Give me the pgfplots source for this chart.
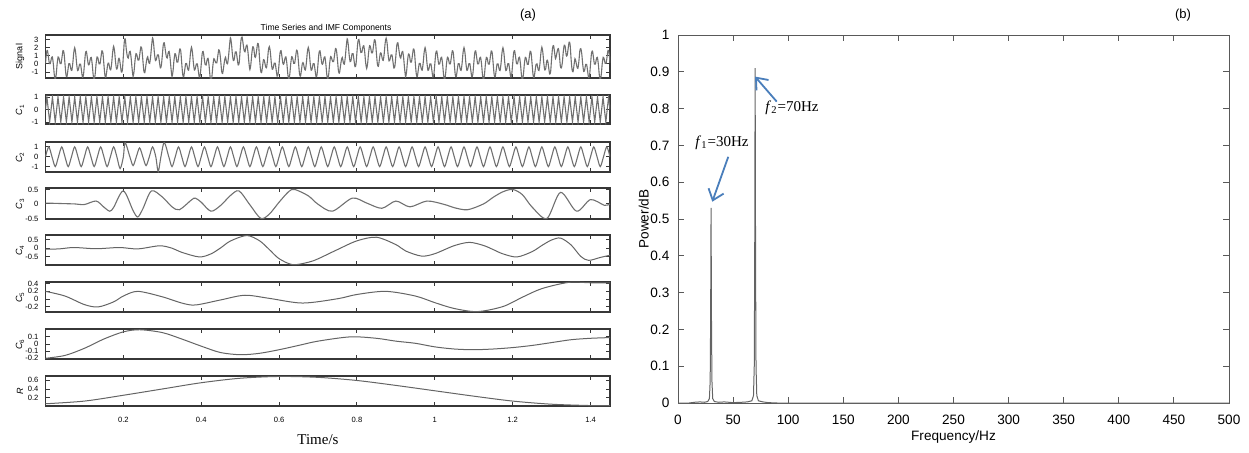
\documentclass[border=0pt]{standalone}
\usepackage{fontspec}
\setmainfont{Liberation Sans}
\newfontfamily\timesf{Liberation Serif}
\usepackage{pgfplots}
\pgfplotsset{compat=1.18}
\usetikzlibrary{arrows.meta}
\definecolor{curve}{RGB}{100,100,100}
\definecolor{curvelt}{RGB}{112,112,112}
\definecolor{frame}{RGB}{55,55,55}
\definecolor{annot}{RGB}{74,126,187}

\pgfplotsset{
  lp/.style={
    scale only axis, anchor=south west,
    width=282.25pt, xmin=0, xmax=1.45,
    tick align=inside, major tick length=2pt,
    xtick={0.2,0.4,0.6,0.8,1,1.2,1.4},
    axis line style={frame, line width=0.6pt},
    every tick/.style={frame, line width=0.45pt},
    tick label style={font=\fontsize{3.8}{4}\selectfont},
    /pgf/number format/assume math mode=true,
    ylabel style={at={(axis description cs:-0.045,0.5)}, anchor=center,
      font=\fontsize{4.5}{5}\selectfont},
  },
  nox/.style={xticklabels={}},
  cv/.style={curve, line width=0.5pt},
  cvl/.style={curvelt, line width=0.55pt},
}

\begin{document}
\begin{tikzpicture}
\path[use as bounding box] (0,0) rectangle (624.5pt,226pt);

% ---------------- (a) time series and IMFs ----------------
\begin{axis}[lp, nox, at={(22.75pt,187pt)}, height=21.5pt,
  ymin=-1.75, ymax=3.6, ytick={-1,0,1,2,3}, ylabel={Signal},
  title={Time Series and IMF Components},
  every axis title shift=0pt,
  title style={at={(axis description cs:0.497,1)}, anchor=south,
    font=\fontsize{4.3}{5}\selectfont, inner sep=1.2pt}]
\addplot[cvl, smooth] coordinates {
(0,0.05)(0.0025,1.40)(0.005,1.67)(0.0075,0.88)(0.01,0.05)(0.0125,0.05)(0.015,0.67)(0.0175,0.88)(0.02,0.05)(0.0225,-1.30)
(0.025,-1.96)(0.0275,-1.31)(0.03,0.04)(0.0325,0.87)(0.035,0.66)(0.0375,0.04)(0.04,0.04)(0.0425,0.87)(0.045,1.66)(0.0475,1.39)
(0.05,0.03)(0.0525,-1.32)(0.055,-1.59)(0.0575,-0.80)(0.06,0.03)(0.0625,0.02)(0.065,-0.60)(0.0675,-0.81)(0.07,0.02)(0.0725,1.37)
(0.075,2.01)(0.0775,1.36)(0.08,0.01)(0.0825,-0.82)(0.085,-0.61)(0.0875,-0.03)(0.09,-0.03)(0.0925,-0.86)(0.095,-1.65)(0.0975,-1.38)
(0.1,-0.07)(0.1025,1.28)(0.105,1.55)(0.1075,0.76)(0.11,-0.07)(0.1125,-0.02)(0.115,0.60)(0.1175,0.81)(0.12,-0.02)(0.1225,-1.37)
(0.125,-1.96)(0.1275,-1.31)(0.13,0.04)(0.1325,0.87)(0.135,0.66)(0.1375,0.01)(0.14,0.01)(0.1425,0.84)(0.145,1.63)(0.1475,1.36)
(0.15,-0.03)(0.1525,-1.38)(0.155,-1.65)(0.1575,-0.86)(0.16,-0.03)(0.1625,0.09)(0.165,-0.53)(0.1675,-0.74)(0.17,0.09)(0.1725,1.44)
(0.175,2.20)(0.1775,1.55)(0.18,0.20)(0.1825,-0.63)(0.185,-0.42)(0.1875,0.60)(0.19,0.60)(0.1925,-0.23)(0.195,-1.02)(0.1975,-0.75)
(0.2,1.00)(0.2025,2.80)(0.205,3.10)(0.2075,1.83)(0.21,1.00)(0.2125,0.73)(0.215,1.35)(0.2175,1.56)(0.22,0.73)(0.2225,-0.62)
(0.225,-1.55)(0.2275,-0.90)(0.23,0.45)(0.2325,1.28)(0.235,1.07)(0.2375,0.49)(0.24,0.49)(0.2425,1.32)(0.245,2.11)(0.2475,1.84)
(0.25,0.53)(0.2525,-0.82)(0.255,-1.09)(0.2575,-0.30)(0.26,0.53)(0.2625,0.89)(0.265,0.27)(0.2675,0.06)(0.27,0.89)(0.2725,2.24)
(0.275,3.24)(0.2775,2.59)(0.28,1.24)(0.2825,0.41)(0.285,0.62)(0.2875,1.13)(0.29,1.13)(0.2925,0.30)(0.295,-0.49)(0.2975,-0.22)
(0.3,1.01)(0.3025,2.36)(0.305,2.63)(0.3075,1.84)(0.31,1.01)(0.3125,0.73)(0.315,1.35)(0.3175,1.56)(0.32,0.73)(0.3225,-0.62)
(0.325,-1.56)(0.3275,-0.91)(0.33,0.44)(0.3325,1.27)(0.335,1.06)(0.3375,0.24)(0.34,0.24)(0.3425,1.07)(0.345,1.86)(0.3475,1.59)
(0.35,0.03)(0.3525,-1.32)(0.355,-1.59)(0.3575,-0.80)(0.36,0.03)(0.3625,0.05)(0.365,-0.57)(0.3675,-0.78)(0.37,0.05)(0.3725,1.40)
(0.375,2.07)(0.3775,1.42)(0.38,0.07)(0.3825,-0.76)(0.385,-0.55)(0.3875,0)(0.39,0)(0.3925,-0.83)(0.395,-1.62)(0.3975,-1.35)
(0.4,-0.07)(0.4025,1.28)(0.405,1.55)(0.4075,0.76)(0.41,-0.07)(0.4125,-0.13)(0.415,0.49)(0.4175,0.70)(0.42,-0.13)(0.4225,-1.48)
(0.425,-2.18)(0.4275,-1.53)(0.43,-0.18)(0.4325,0.65)(0.435,0.44)(0.4375,0.13)(0.44,0.13)(0.4425,0.96)(0.445,1.75)(0.4475,1.48)
(0.45,0.43)(0.4525,-0.92)(0.455,-1.19)(0.4575,-0.40)(0.46,0.43)(0.4625,0.84)(0.465,0.22)(0.4675,0.01)(0.47,0.84)(0.4725,2.19)
(0.475,3.25)(0.4775,2.60)(0.48,1.25)(0.4825,0.42)(0.485,0.63)(0.4875,1.49)(0.49,1.49)(0.4925,0.66)(0.495,-0.13)(0.4975,0.14)
(0.5,1.72)(0.5025,3.07)(0.505,3.34)(0.5075,2.55)(0.51,1.72)(0.5125,1.51)(0.515,2.13)(0.5175,2.34)(0.52,1.51)(0.5225,0.16)
(0.525,-0.70)(0.5275,-0.05)(0.53,1.30)(0.5325,2.13)(0.535,1.92)(0.5375,0.92)(0.54,0.92)(0.5425,1.75)(0.545,2.54)(0.5475,2.27)
(0.55,0.54)(0.5525,-0.81)(0.555,-1.08)(0.5575,-0.29)(0.56,0.54)(0.5625,0.35)(0.565,-0.27)(0.5675,-0.48)(0.57,0.35)(0.5725,1.70)
(0.575,2.16)(0.5775,1.51)(0.58,0.16)(0.5825,-0.67)(0.585,-0.46)(0.5875,0.10)(0.59,0.10)(0.5925,-0.73)(0.595,-1.52)(0.5975,-1.25)
(0.6,0.03)(0.6025,1.38)(0.605,1.65)(0.6075,0.86)(0.61,0.03)(0.6125,0.05)(0.615,0.67)(0.6175,0.88)(0.62,0.05)(0.6225,-1.30)
(0.625,-1.93)(0.6275,-1.28)(0.63,0.07)(0.6325,0.90)(0.635,0.69)(0.6375,0.09)(0.64,0.09)(0.6425,0.92)(0.645,1.71)(0.6475,1.44)
(0.65,0.10)(0.6525,-1.25)(0.655,-1.52)(0.6575,-0.73)(0.66,0.10)(0.6625,0.08)(0.665,-0.54)(0.6675,-0.75)(0.67,0.08)(0.6725,1.43)
(0.675,2.05)(0.6775,1.40)(0.68,0.05)(0.6825,-0.78)(0.685,-0.57)(0.6875,0.03)(0.69,0.03)(0.6925,-0.80)(0.695,-1.59)(0.6975,-1.32)
(0.7,0.01)(0.7025,1.36)(0.705,1.63)(0.7075,0.84)(0.71,0.01)(0.7125,0.05)(0.715,0.67)(0.7175,0.88)(0.72,0.05)(0.7225,-1.30)
(0.725,-1.91)(0.7275,-1.26)(0.73,0.09)(0.7325,0.92)(0.735,0.71)(0.7375,0.29)(0.74,0.29)(0.7425,1.12)(0.745,1.91)(0.7475,1.64)
(0.75,0.48)(0.7525,-0.87)(0.755,-1.14)(0.7575,-0.35)(0.76,0.48)(0.7625,0.80)(0.765,0.18)(0.7675,-0.03)(0.77,0.80)(0.7725,2.15)
(0.775,3.12)(0.7775,2.47)(0.78,1.12)(0.7825,0.29)(0.785,0.50)(0.7875,1.28)(0.79,1.28)(0.7925,0.45)(0.795,-0.34)(0.7975,-0.07)
(0.8,1.43)(0.8025,2.78)(0.805,3.05)(0.8075,2.26)(0.81,1.43)(0.8125,1.44)(0.815,2.06)(0.8175,2.27)(0.82,1.44)(0.8225,0.09)
(0.825,-0.56)(0.8275,0.09)(0.83,1.44)(0.8325,2.27)(0.835,2.06)(0.8375,1.39)(0.84,1.39)(0.8425,2.22)(0.845,3.01)(0.8475,2.74)
(0.85,1.33)(0.8525,-0.02)(0.855,-0.29)(0.8575,0.50)(0.86,1.33)(0.8625,1.27)(0.865,0.65)(0.8675,0.44)(0.87,1.27)(0.8725,2.62)
(0.875,3.20)(0.8775,2.55)(0.88,1.20)(0.8825,0.37)(0.885,0.58)(0.8875,1.11)(0.89,1.11)(0.8925,0.28)(0.895,-0.51)(0.8975,-0.24)
(0.9,1.02)(0.9025,2.37)(0.905,2.64)(0.9075,1.85)(0.91,1.02)(0.9125,0.72)(0.915,1.34)(0.9175,1.55)(0.92,0.72)(0.9225,-0.63)
(0.925,-1.59)(0.9275,-0.94)(0.93,0.41)(0.9325,1.24)(0.935,1.03)(0.9375,0.24)(0.94,0.24)(0.9425,1.07)(0.945,1.86)(0.9475,1.59)
(0.95,0.06)(0.9525,-1.29)(0.955,-1.56)(0.9575,-0.77)(0.96,0.06)(0.9625,0.05)(0.965,-0.57)(0.9675,-0.78)(0.97,0.05)(0.9725,1.40)
(0.975,2.03)(0.9775,1.38)(0.98,0.03)(0.9825,-0.80)(0.985,-0.59)(0.9875,0.01)(0.99,0.01)(0.9925,-0.82)(0.995,-1.61)(0.9975,-1.34)
(1,-0.01)(1.0025,1.34)(1.005,1.61)(1.0075,0.82)(1.01,-0.01)(1.0125,0)(1.015,0.62)(1.0175,0.83)(1.02,0)(1.0225,-1.35)
(1.025,-1.99)(1.0275,-1.34)(1.03,0.01)(1.0325,0.84)(1.035,0.63)(1.0375,0.02)(1.04,0.02)(1.0425,0.85)(1.045,1.64)(1.0475,1.37)
(1.05,0.02)(1.0525,-1.33)(1.055,-1.60)(1.0575,-0.81)(1.06,0.02)(1.0625,0.03)(1.065,-0.59)(1.0675,-0.80)(1.07,0.03)(1.0725,1.38)
(1.075,2.03)(1.0775,1.38)(1.08,0.03)(1.0825,-0.80)(1.085,-0.59)(1.0875,0.02)(1.09,0.02)(1.0925,-0.81)(1.095,-1.60)(1.0975,-1.33)
(1.1,0)(1.1025,1.35)(1.105,1.62)(1.1075,0.83)(1.11,0)(1.1125,0)(1.115,0.62)(1.1175,0.83)(1.12,0)(1.1225,-1.35)
(1.125,-2.01)(1.1275,-1.36)(1.13,-0.01)(1.1325,0.82)(1.135,0.61)(1.1375,-0.01)(1.14,-0.01)(1.1425,0.82)(1.145,1.61)(1.1475,1.34)
(1.15,0)(1.1525,-1.35)(1.155,-1.62)(1.1575,-0.83)(1.16,0)(1.1625,0.01)(1.165,-0.61)(1.1675,-0.82)(1.17,0.01)(1.1725,1.36)
(1.175,2.01)(1.1775,1.36)(1.18,0.01)(1.1825,-0.82)(1.185,-0.61)(1.1875,0.02)(1.19,0.02)(1.1925,-0.81)(1.195,-1.60)(1.1975,-1.33)
(1.2,0.03)(1.2025,1.38)(1.205,1.65)(1.2075,0.86)(1.21,0.03)(1.2125,0.01)(1.215,0.63)(1.2175,0.84)(1.22,0.01)(1.2225,-1.34)
(1.225,-2.01)(1.2275,-1.36)(1.23,-0.01)(1.2325,0.82)(1.235,0.61)(1.2375,-0.04)(1.24,-0.04)(1.2425,0.79)(1.245,1.58)(1.2475,1.31)
(1.25,-0.06)(1.2525,-1.41)(1.255,-1.68)(1.2575,-0.89)(1.26,-0.06)(1.2625,0.01)(1.265,-0.61)(1.2675,-0.82)(1.27,0.01)(1.2725,1.36)
(1.275,2.08)(1.2775,1.43)(1.28,0.08)(1.2825,-0.75)(1.285,-0.54)(1.2875,0.37)(1.29,0.37)(1.2925,-0.46)(1.295,-1.25)(1.2975,-0.98)
(1.3,0.66)(1.3025,2.01)(1.305,2.28)(1.3075,1.49)(1.31,0.66)(1.3125,1.08)(1.315,1.70)(1.3175,1.91)(1.32,1.08)(1.3225,-0.27)
(1.325,-0.50)(1.3275,0.15)(1.33,1.50)(1.3325,2.33)(1.335,2.12)(1.3375,1.08)(1.34,1.08)(1.3425,1.91)(1.345,2.70)(1.3475,2.43)
(1.35,0.65)(1.3525,-0.70)(1.355,-0.97)(1.3575,-0.18)(1.36,0.65)(1.3625,0.28)(1.365,-0.34)(1.3675,-0.55)(1.37,0.28)(1.3725,1.63)
(1.375,1.90)(1.3775,1.25)(1.38,-0.10)(1.3825,-0.93)(1.385,-0.72)(1.3875,-0.06)(1.39,-0.06)(1.3925,-0.89)(1.395,-1.68)(1.3975,-1.41)
(1.4,-0.02)(1.4025,1.33)(1.405,1.60)(1.4075,0.81)(1.41,-0.02)(1.4125,-0.01)(1.415,0.61)(1.4175,0.82)(1.42,-0.01)(1.4225,-1.36)
(1.425,-2.00)(1.4275,-1.35)(1.43,0)(1.4325,0.83)(1.435,0.62)(1.4375,0.07)(1.44,0.07)(1.4425,0.90)(1.445,1.69)(1.4475,1.42)
(1.45,0.14)
};
\end{axis}

\begin{axis}[lp, nox, at={(22.75pt,164pt)}, height=14.5pt,
  ymin=-1.16, ymax=1.16, ytick={-1,0,1}, ylabel={{\itshape C}\textsubscript{1}}]
\addplot[cvl] coordinates {
(0,0)
(0.0036,1)(0.0107,-1)(0.0179,1)(0.025,-1)(0.0321,1)(0.0393,-1)(0.0464,1)(0.0536,-1)(0.0607,1)(0.0679,-1)(0.075,1)(0.0821,-1)(0.0893,1)(0.0964,-1)
(0.1036,1)(0.1107,-1)(0.1179,1)(0.125,-1)(0.1321,1)(0.1393,-1)(0.1464,1)(0.1536,-1)(0.1607,1)(0.1679,-1)(0.175,1)(0.1821,-1)(0.1893,1)(0.1964,-1)
(0.2036,1)(0.2107,-1)(0.2179,1)(0.225,-1)(0.2321,1)(0.2393,-1)(0.2464,1)(0.2536,-1)(0.2607,1)(0.2679,-1)(0.275,1)(0.2821,-1)(0.2893,1)(0.2964,-1)
(0.3036,1)(0.3107,-1)(0.3179,1)(0.325,-1)(0.3321,1)(0.3393,-1)(0.3464,1)(0.3536,-1)(0.3607,1)(0.3679,-1)(0.375,1)(0.3821,-1)(0.3893,1)(0.3964,-1)
(0.4036,1)(0.4107,-1)(0.4179,1)(0.425,-1)(0.4321,1)(0.4393,-1)(0.4464,1)(0.4536,-1)(0.4607,1)(0.4679,-1)(0.475,1)(0.4821,-1)(0.4893,1)(0.4964,-1)
(0.5036,1)(0.5107,-1)(0.5179,1)(0.525,-1)(0.5321,1)(0.5393,-1)(0.5464,1)(0.5536,-1)(0.5607,1)(0.5679,-1)(0.575,1)(0.5821,-1)(0.5893,1)(0.5964,-1)
(0.6036,1)(0.6107,-1)(0.6179,1)(0.625,-1)(0.6321,1)(0.6393,-1)(0.6464,1)(0.6536,-1)(0.6607,1)(0.6679,-1)(0.675,1)(0.6821,-1)(0.6893,1)(0.6964,-1)
(0.7036,1)(0.7107,-1)(0.7179,1)(0.725,-1)(0.7321,1)(0.7393,-1)(0.7464,1)(0.7536,-1)(0.7607,1)(0.7679,-1)(0.775,1)(0.7821,-1)(0.7893,1)(0.7964,-1)
(0.8036,1)(0.8107,-1)(0.8179,1)(0.825,-1)(0.8321,1)(0.8393,-1)(0.8464,1)(0.8536,-1)(0.8607,1)(0.8679,-1)(0.875,1)(0.8821,-1)(0.8893,1)(0.8964,-1)
(0.9036,1)(0.9107,-1)(0.9179,1)(0.925,-1)(0.9321,1)(0.9393,-1)(0.9464,1)(0.9536,-1)(0.9607,1)(0.9679,-1)(0.975,1)(0.9821,-1)(0.9893,1)(0.9964,-1)
(1.0036,1)(1.0107,-1)(1.0179,1)(1.025,-1)(1.0321,1)(1.0393,-1)(1.0464,1)(1.0536,-1)(1.0607,1)(1.0679,-1)(1.075,1)(1.0821,-1)(1.0893,1)(1.0964,-1)
(1.1036,1)(1.1107,-1)(1.1179,1)(1.125,-1)(1.1321,1)(1.1393,-1)(1.1464,1)(1.1536,-1)(1.1607,1)(1.1679,-1)(1.175,1)(1.1821,-1)(1.1893,1)(1.1964,-1)
(1.2036,1)(1.2107,-1)(1.2179,1)(1.225,-1)(1.2321,1)(1.2393,-1)(1.2464,1)(1.2536,-1)(1.2607,1)(1.2679,-1)(1.275,1)(1.2821,-1)(1.2893,1)(1.2964,-1)
(1.3036,1)(1.3107,-1)(1.3179,1)(1.325,-1)(1.3321,1)(1.3393,-1)(1.3464,1)(1.3536,-1)(1.3607,1)(1.3679,-1)(1.375,1)(1.3821,-1)(1.3893,1)(1.3964,-1)
(1.4036,1)(1.4107,-1)(1.4179,1)(1.425,-1)(1.4321,1)(1.4393,-1)(1.4464,1)(1.45,0)
};
\end{axis}

\begin{axis}[lp, nox, at={(22.75pt,140pt)}, height=15pt,
  ymin=-1.55, ymax=1.5, ytick={-1,0,1}, ylabel={{\itshape C}\textsubscript{2}}]
\addplot[cvl, smooth] coordinates {
(0,0)(0.0083,1)(0.0167,0)(0.025,-1)(0.0333,0)(0.0417,1)(0.05,0)(0.0583,-1)(0.0667,0)(0.075,1)(0.0833,0)(0.0917,-1)
(0.1,0)(0.1083,1)(0.1167,0)(0.125,-1)(0.1333,0)(0.1417,1)(0.15,0)(0.1583,-1)(0.1667,0)(0.175,1)(0.1833,0)(0.1917,-1.2)
(0.2,0)(0.2045,1.45)(0.2167,0)(0.225,-0.9)(0.2333,0)(0.2417,0.9)(0.25,0)(0.2583,-0.9)(0.2667,0)(0.275,1.0)(0.2833,0)(0.2895,-1.5)
(0.2965,0)(0.305,1.45)(0.3167,0)(0.325,-1.0)(0.3333,0)(0.3417,1)(0.35,0)(0.3583,-1)(0.3667,0)(0.375,1)(0.3833,0)(0.3917,-1)
(0.4,0)(0.4083,1)(0.4167,0)(0.425,-1)(0.4333,0)(0.4417,1)(0.45,0)(0.4583,-1)(0.4667,0)(0.475,1)(0.4833,0)(0.4917,-1)
(0.5,0)(0.5083,1)(0.5167,0)(0.525,-1)(0.5333,0)(0.5417,1)(0.55,0)(0.5583,-1)(0.5667,0)(0.575,1)(0.5833,0)(0.5917,-1)
(0.6,0)(0.6083,1)(0.6167,0)(0.625,-1)(0.6333,0)(0.6417,1)(0.65,0)(0.6583,-1)(0.6667,0)(0.675,1)(0.6833,0)(0.6917,-1)
(0.7,0)(0.7083,1)(0.7167,0)(0.725,-1)(0.7333,0)(0.7417,1)(0.75,0)(0.7583,-1)(0.7667,0)(0.775,1)(0.7833,0)(0.7917,-1)
(0.8,0)(0.8083,1)(0.8167,0)(0.825,-1)(0.8333,0)(0.8417,1)(0.85,0)(0.8583,-1)(0.8667,0)(0.875,1)(0.8833,0)(0.8917,-1)
(0.9,0)(0.9083,1)(0.9167,0)(0.925,-1)(0.9333,0)(0.9417,1)(0.95,0)(0.9583,-1)(0.9667,0)(0.975,1)(0.9833,0)(0.9917,-1)
(1,0)(1.0083,1)(1.0167,0)(1.025,-1)(1.0333,0)(1.0417,1)(1.05,0)(1.0583,-1)(1.0667,0)(1.075,1)(1.0833,0)(1.0917,-1)
(1.1,0)(1.1083,1)(1.1167,0)(1.125,-1)(1.1333,0)(1.1417,1)(1.15,0)(1.1583,-1)(1.1667,0)(1.175,1)(1.1833,0)(1.1917,-1)
(1.2,0)(1.2083,1)(1.2167,0)(1.225,-1)(1.2333,0)(1.2417,1)(1.25,0)(1.2583,-1)(1.2667,0)(1.275,1)(1.2833,0)(1.2917,-1)
(1.3,0)(1.3083,1)(1.3167,0)(1.325,-1)(1.3333,0)(1.3417,1)(1.35,0)(1.3583,-1)(1.3667,0)(1.375,1)(1.3833,0)(1.3917,-1)
(1.4,0)(1.4083,1)(1.4167,0)(1.425,-1)(1.4333,0)(1.4417,1)(1.45,0)
};
\end{axis}

\begin{axis}[lp, nox, at={(22.75pt,116.5pt)}, height=15.5pt,
  ymin=-0.52, ymax=0.55, ytick={-0.5,0,0.5}, ylabel={{\itshape C}\textsubscript{3}}]
\addplot[cvl, smooth] coordinates {
(0,0.03)(0.025,0.02)(0.05,0.01)(0.075,0)(0.1,-0.02)(0.13,0.1)(0.15,-0.11)(0.165,-0.25)(0.175,-0.12)
(0.2,0.45)(0.225,-0.23)(0.237,-0.45)(0.25,-0.17)(0.272,0.45)(0.3,0.24)(0.325,-0.1)(0.344,-0.2)
(0.375,0.14)(0.385,0.2)(0.4,0.06)(0.425,-0.25)(0.45,-0.05)(0.475,0.29)(0.497,0.45)(0.525,-0.03)
(0.553,-0.5)(0.575,-0.35)(0.6,0.06)(0.625,0.43)(0.64,0.5)(0.675,0.28)(0.7,-0.01)(0.737,-0.25)
(0.788,0.2)(0.825,0.03)(0.864,-0.15)(0.9,0.1)(0.936,-0.1)(0.98,0.1)(1.025,-0.02)(1.05,-0.13)
(1.084,-0.2)(1.125,0)(1.15,0.23)(1.175,0.42)(1.2,0.5)(1.225,0.32)(1.25,-0.11)(1.288,-0.5)
(1.323,0.4)(1.364,-0.25)(1.4,0.15)(1.436,-0.05)(1.45,0)
};
\end{axis}

\begin{axis}[lp, nox, at={(22.75pt,93.5pt)}, height=15pt,
  ymin=-0.97, ymax=0.78, ytick={-1,-0.5,0,0.5}, ylabel={{\itshape C}\textsubscript{4}}]
\addplot[cv, smooth] coordinates {
(0,-0.05)(0.035,-0.03)(0.073,0.05)(0.13,-0.02)(0.19,0.05)(0.237,-0.03)(0.293,0.15)(0.325,0.01)
(0.35,-0.23)(0.395,-0.5)(0.425,-0.32)(0.45,0.03)(0.475,0.43)(0.517,0.75)(0.55,0.44)(0.575,-0.07)
(0.6,-0.6)(0.635,-0.95)(0.675,-0.81)(0.7,-0.61)(0.75,-0.07)(0.8,0.44)(0.85,0.65)(0.9,0.22)
(0.925,-0.15)(0.966,-0.45)(1,-0.31)(1.05,0.16)(1.089,0.35)(1.125,0.17)(1.15,-0.07)(1.175,-0.32)
(1.211,-0.5)(1.25,-0.19)(1.275,0.17)(1.3,0.49)(1.323,0.6)(1.35,0.2)(1.375,-0.47)(1.395,-0.7)
(1.425,-0.53)(1.45,-0.4)
};
\end{axis}

\begin{axis}[lp, nox, at={(22.75pt,70pt)}, height=15pt,
  ymin=-0.33, ymax=0.44, ytick={-0.2,0,0.2,0.4}, ylabel={{\itshape C}\textsubscript{5}}]
\addplot[cv, smooth] coordinates {
(0,0.2)(0.05,0.08)(0.1,-0.14)(0.135,-0.2)(0.175,-0.07)(0.2,0.08)(0.237,0.2)(0.3,0.06)
(0.35,-0.1)(0.385,-0.15)(0.45,-0.02)(0.512,0.1)(0.575,0.02)(0.66,-0.1)(0.75,0.01)(0.8,0.12)
(0.874,0.2)(0.95,0.08)(1,-0.09)(1.05,-0.24)(1.109,-0.32)(1.175,-0.19)(1.225,0.05)(1.275,0.27)
(1.344,0.43)(1.4,0.42)(1.45,0.42)
};
\end{axis}

\begin{axis}[lp, nox, at={(22.75pt,46.5pt)}, height=15pt,
  ymin=-0.21, ymax=0.21, ytick={-0.2,-0.1,0,0.1}, ylabel={{\itshape C}\textsubscript{6}}]
\addplot[cv, smooth] coordinates {
(0,-0.2)(0.05,-0.16)(0.1,-0.06)(0.15,0.07)(0.2,0.17)(0.242,0.2)(0.3,0.16)(0.35,0.07)
(0.4,-0.03)(0.45,-0.12)(0.502,-0.15)(0.55,-0.13)(0.6,-0.08)(0.65,-0.02)(0.7,0.04)(0.783,0.1)
(0.85,0.08)(0.9,0.04)(0.95,0.01)(1,-0.04)(1.05,-0.07)(1.099,-0.08)(1.15,-0.07)(1.2,-0.05)
(1.25,-0.02)(1.3,0.02)(1.35,0.06)(1.4,0.08)(1.45,0.09)
};
\end{axis}

\begin{axis}[lp, at={(22.75pt,23pt)}, height=15pt,
  ymin=0.02, ymax=0.69, ytick={0.2,0.4,0.6}, ylabel={{\itshape R}},
  xticklabel style={yshift=-2.2pt}]
\addplot[cv, smooth] coordinates {
(0,0.07)(0.1,0.13)(0.2,0.26)(0.3,0.4)(0.4,0.54)(0.5,0.64)(0.6,0.68)(0.7,0.66)
(0.8,0.59)(0.9,0.48)(1,0.36)(1.1,0.24)(1.2,0.13)(1.3,0.06)(1.4,0.03)(1.45,0.03)
};
\end{axis}

\node[font=\timesf\fontsize{7.5}{9}\selectfont] at (159pt,6pt) {Time/s};
\node[font=\fontsize{6.5}{8}\selectfont] at (264pt,218.5pt) {(a)};
\node[font=\fontsize{6.5}{8}\selectfont] at (591.5pt,218.5pt) {(b)};

% ---------------- (b) spectrum ----------------
\begin{axis}[scale only axis, anchor=south west, at={(339pt,24.5pt)},
  width=275.5pt, height=184pt,
  xmin=0, xmax=500, ymin=0, ymax=1,
  xtick={0,50,100,150,200,250,300,350,400,450,500},
  ytick={0,0.1,0.2,0.3,0.4,0.5,0.6,0.7,0.8,0.9,1},
  tick align=inside, major tick length=3pt,
  axis line style={black!65, line width=0.45pt},
  every tick/.style={black!65, line width=0.45pt},
  tick label style={font=\fontsize{6.8}{8}\selectfont},
  /pgf/number format/assume math mode=true,
  yticklabel style={xshift=-0.8pt},
  xticklabel style={yshift=-2.5pt},
  label style={font=\fontsize{6.8}{8}\selectfont},
  xlabel={Frequency/Hz}, ylabel={Power/dB},
  xlabel style={at={(axis description cs:0.5,-0.092)}, anchor=center},
  ylabel style={at={(axis description cs:-0.062,0.5)}, anchor=center}]
\addplot[curve, line width=0.5pt] coordinates {
(0,0)(10,0)(15,0.002)(20,0.003)(24,0.002)(27,0.004)(28.5,0.012)(29.2,0.06)(29.6,0.22)(30,0.53)
(30.4,0.22)(30.8,0.06)(31.5,0.012)(33,0.004)(37,0.002)(42,0.003)(50,0.001)(58,0.002)(63,0.003)
(67,0.006)(68.5,0.02)(69.2,0.1)(69.6,0.38)(70,0.91)(70.4,0.38)(70.8,0.1)(71.5,0.02)(73,0.006)
(77,0.003)(82,0.001)(90,0)(500,0)
};
\draw[annot, line width=0.9pt, -{Straight Barb[length=5pt,width=8pt]}]
  (axis cs:45.6,0.669) -- (axis cs:31.1,0.547);
\draw[annot, line width=0.9pt, -{Straight Barb[length=5pt,width=8pt]}]
  (axis cs:89.6,0.819) -- (axis cs:69.9,0.887);
\node[font=\timesf\fontsize{7.5}{9}\selectfont] at (axis cs:39.9,0.707)
  {\textit{f}\textsubscript{1}=30Hz};
\node[font=\timesf\fontsize{7.5}{9}\selectfont] at (axis cs:103.4,0.802)
  {\textit{f}\textsubscript{2}=70Hz};
\end{axis}
\end{tikzpicture}
\end{document}
